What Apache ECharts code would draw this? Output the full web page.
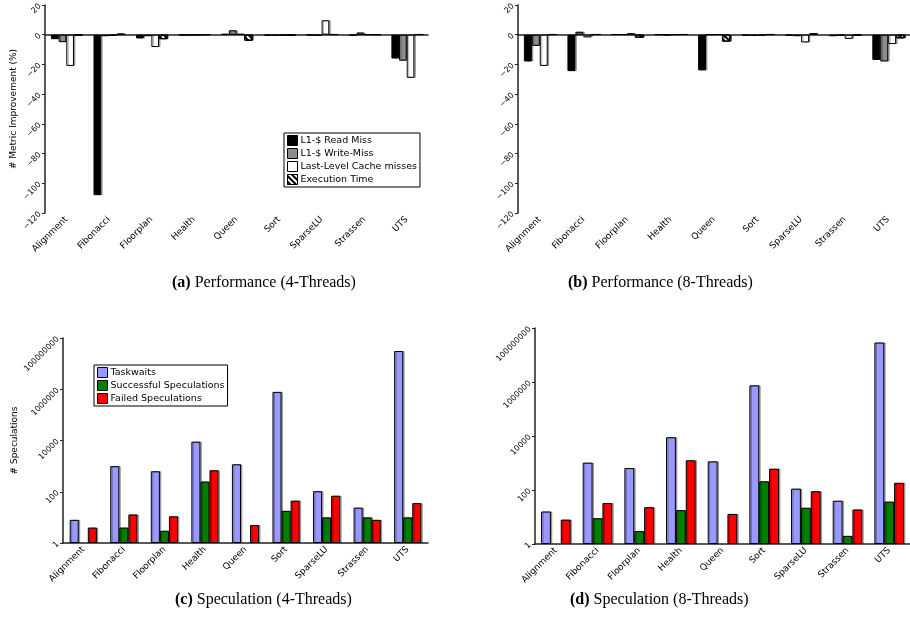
<!DOCTYPE html>
<html>
<head>
<meta charset="utf-8">
<script src="https://cdn.jsdelivr.net/npm/echarts@6/dist/echarts.min.js"></script>
<style>html,body{margin:0;padding:0;background:#fff}#c{width:910px;height:629px}</style>
</head>
<body>
<div id="c"></div>
<script>
const categories = ['Alignment','Fibonacci','Floorplan','Health','Queen','Sort','SparseLU','Strassen','UTS'];
const perfTicks = [20, 0, -20, -40, -60, -80, -100, -120];
const specTicks = ['1', '100', '10000', '1000000', '100000000'];

const perfSeriesNames = ['L1-$ Read Miss', 'L1-$ Write-Miss', 'Last-Level Cache misses', 'Execution Time'];
const specSeriesNames = ['Taskwaits', 'Successful Speculations', 'Failed Speculations'];

// Performance, 4 threads (% improvement)
const perf4_readMiss  = [-3, -108, -2.5, -0.3, 0.5, -0.5, -0.3, -0.5, -16];
const perf4_writeMiss = [-5, -1, -1, -0.3, 3, -0.5, -0.5, 1.5, -17.5];
const perf4_llc       = [-21, -0.5, -8.3, -0.3, 0.5, -0.5, 9.7, 0.2, -29];
const perf4_exec      = [-0.3, 0.5, -3, 0.2, -4, -0.3, 0.3, 0.2, 0.3];

// Performance, 8 threads
const perf8_readMiss  = [-18, -24.5, 0.3, 0.2, -24, -0.5, -0.5, -1, -17];
const perf8_writeMiss = [-7.5, 2, 0.3, -0.3, 0.2, -0.7, -1, -0.5, -18];
const perf8_llc       = [-21, -1.8, 1, 0.2, 0.3, -0.5, -5.2, -2.8, -6.3];
const perf8_exec      = [0.3, 0.3, -2, 0.3, -4.6, 0.3, 0.8, -0.5, -2.4];

// Speculation, 4 threads (counts)
const spec4_taskwaits = [8, 1000, 630, 9000, 1180, 790000, 105, 24, 31000000];
const spec4_success   = ['-', 4, 3, 250, '-', 18, 10, 10, 10];
const spec4_failed    = [4, 13, 11, 690, 5, 45, 70, 8, 36];

// Speculation, 8 threads
const spec8_taskwaits = [16, 1030, 650, 9000, 1150, 750000, 112, 40, 29000000];
const spec8_success   = ['-', 9, 3, 18, '-', 210, 22, 2, 37];
const spec8_failed    = [8, 33, 23, 1260, 13, 615, 90, 19, 185];

const chart = echarts.init(document.getElementById('c'));
const FONT = 'DejaVu Sans';
const axisLineStyle = {color: '#222', width: 1.5};

const hatch = {symbol: 'rect', color: '#000', backgroundColor: '#fff', dashArrayX: [1, 0], dashArrayY: [1.2, 1.3], rotation: Math.PI / 4, symbolSize: 1};
const perfColors = ['#000000', '#8c8c8c', '#ffffff', '#ffffff'];
const specColors = ['#9999ff', '#008000', '#ff0000'];

function catAxis(gi) {
  return {
    type: 'category', gridIndex: gi, data: categories,
    axisLine: {lineStyle: axisLineStyle},
    axisTick: {length: 3, lineStyle: {color: '#222'}},
    axisLabel: {rotate: 45, fontSize: 9, fontFamily: FONT, color: '#000', margin: 5}
  };
}
function perfYAxis(gi, name) {
  return {
    type: 'value', gridIndex: gi, min: perfTicks[perfTicks.length - 1], max: perfTicks[0], interval: 20,
    name: name, nameLocation: 'middle', nameGap: 26, nameTextStyle: {fontSize: 9, fontFamily: FONT, color: '#000'},
    axisLine: {show: true, lineStyle: axisLineStyle},
    axisTick: {show: true, length: 3, lineStyle: {color: '#222'}},
    splitLine: {show: false},
    axisLabel: {rotate: 45, fontSize: 8, fontFamily: FONT, color: '#000', margin: 5,
      formatter: v => String(v).replace('-', '\u2212')}
  };
}
function specYAxis(gi, name) {
  return {
    type: 'log', logBase: 100, gridIndex: gi, min: Number(specTicks[0]), max: Number(specTicks[specTicks.length - 1]),
    name: name, nameLocation: 'middle', nameGap: 44, nameTextStyle: {fontSize: 9, fontFamily: FONT, color: '#000'},
    axisLine: {show: true, lineStyle: axisLineStyle},
    axisTick: {show: true, length: 3, lineStyle: {color: '#222'}},
    splitLine: {show: false},
    axisLabel: {rotate: 45, fontSize: 8, fontFamily: FONT, color: '#000', margin: 5,
      formatter: v => String(Math.round(v))}
  };
}

const series = [];
function addPerf(gi, arrays, gap) {
  arrays.forEach((arr, i) => {
    series.push({
      type: 'bar', name: perfSeriesNames[i], xAxisIndex: gi, yAxisIndex: gi, data: arr,
      barGap: '0%', barCategoryGap: gap,
      itemStyle: Object.assign({color: perfColors[i], borderColor: '#000', borderWidth: 1,
        shadowColor: 'rgba(0,0,0,0.3)', shadowOffsetX: 1.5},
        i === 3 ? {decal: hatch} : {}),
      emphasis: {disabled: true}
    });
  });
}
function addSpec(gi, arrays, gap) {
  arrays.forEach((arr, i) => {
    series.push({
      type: 'bar', name: specSeriesNames[i], xAxisIndex: gi, yAxisIndex: gi, data: arr,
      barGap: '0%', barCategoryGap: gap,
      itemStyle: {color: specColors[i], borderColor: '#000', borderWidth: 1,
        shadowColor: 'rgba(0,0,0,0.3)', shadowOffsetX: 1.5},
      emphasis: {disabled: true}
    });
  });
}
addPerf(0, [perf4_readMiss, perf4_writeMiss, perf4_llc, perf4_exec], '28%');
addPerf(1, [perf8_readMiss, perf8_writeMiss, perf8_llc, perf8_exec], '27%');
addSpec(2, [spec4_taskwaits, spec4_success, spec4_failed], '33%');
addSpec(3, [spec8_taskwaits, spec8_success, spec8_failed], '29%');

function caption(x, y, tag, text) {
  return {
    type: 'text', left: x, top: y,
    style: {
      text: '{b|' + tag + '} ' + text, fill: '#000', font: '16px "Liberation Serif"',
      rich: {b: {fontWeight: 'bold', fontSize: 16, fontFamily: 'Liberation Serif'}}
    }
  };
}

const legendCommon = {
  orient: 'vertical', icon: 'rect', itemWidth: 10, itemHeight: 10, itemGap: 2,
  padding: [2, 3, 2, 3], borderColor: '#000', borderWidth: 1, selectedMode: false,
  textStyle: {fontSize: 9.5, fontFamily: FONT, color: '#000', padding: [0, 0, 0, -2]},
  itemStyle: {borderColor: '#000', borderWidth: 1}
};

chart.setOption({
  animation: false,
  backgroundColor: '#fff',
  grid: [
    {left: 45, top: 5, width: 383, height: 208},
    {left: 518, top: 5, width: 396, height: 208},
    {left: 63, top: 338, width: 365, height: 205},
    {left: 535, top: 328, width: 378, height: 216}
  ],
  xAxis: [catAxis(0), catAxis(1), catAxis(2), catAxis(3)],
  yAxis: [perfYAxis(0, '# Metric Improvement (%)'), perfYAxis(1, ''), specYAxis(2, '# Speculations'), specYAxis(3, '')],
  legend: [
    Object.assign({data: perfSeriesNames, left: 284, top: 133}, legendCommon),
    Object.assign({data: specSeriesNames, left: 94, top: 365}, legendCommon)
  ],
  graphic: [
    caption(172, 275, '(a)', 'Performance (4-Threads)'),
    caption(568, 275, '(b)', 'Performance (8-Threads)'),
    caption(175, 592, '(c)', 'Speculation (4-Threads)'),
    caption(570, 592, '(d)', 'Speculation (8-Threads)')
  ],
  series: series
});
</script>
</body>
</html>
